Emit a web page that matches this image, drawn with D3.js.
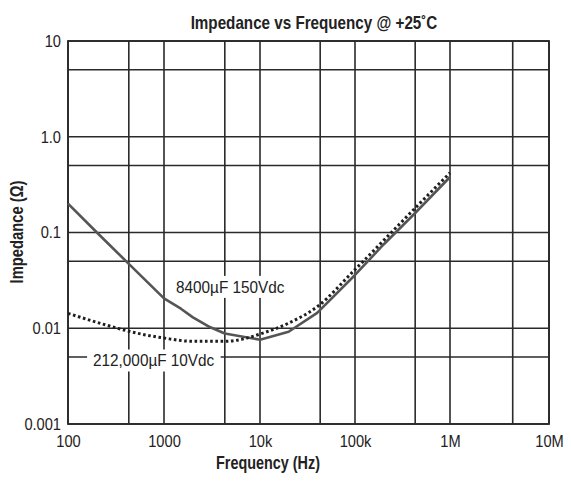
<!DOCTYPE html>
<html>
<head>
<meta charset="utf-8">
<script src="https://cdn.jsdelivr.net/npm/d3@7"></script>
<style>
  body { margin: 0; background: #fff; }
  text { font-family: "Liberation Sans", Arial, sans-serif; fill: #222; }
</style>
</head>
<body>
<div class="chart"></div>
<script>
// decades on the x axis, and the odd intermediate grid lines of the scan
var decadeFreqs = [100, 1000, 10000, 100000, 1000000, 10000000];
var decadeLabels = ['100', '1000', '10k', '100k', '1M', '10M'];
var minorFreqs = [430, 4300, 43000, 430000, 4300000];

var yTicks = [0.001, 0.01, 0.1, 1, 10];
var yLabels = ['0.001', '0.01', '0.1', '1.0', '10'];
var yMinor = [0.005, 0.05, 0.5, 5];

// 8400uF 150Vdc (solid)
var solidFreq = [100, 200, 430, 1000, 1500, 2000, 3000, 4300, 10000, 20000, 40000, 100000, 200000, 430000, 1000000];
var solidZ = [0.2, 0.1, 0.047, 0.0205, 0.016, 0.013, 0.0103, 0.0088, 0.0076, 0.0092, 0.0145, 0.036, 0.075, 0.16, 0.38];

// 212,000uF 10Vdc (dotted)
var dotFreq = [100, 250, 430, 1000, 2000, 4300, 7000, 10000, 20000, 40000, 100000, 430000, 1000000];
var dotZ = [0.0143, 0.0108, 0.0093, 0.0079, 0.0073, 0.0073, 0.0078, 0.0087, 0.0113, 0.0168, 0.041, 0.18, 0.42];

var W = 571, H = 486;

var svg = d3.select('.chart').append('svg')
    .attr('width', W)
    .attr('height', H);

// the last decade of the original is a bit wider than the others
var x = d3.scaleLog()
    .domain(decadeFreqs)
    .range([68, 164, 260, 355, 450, 549]);

var y = d3.scaleLog()
    .domain([0.001, 10])
    .range([424, 41]);

var x0 = x(100), x1 = x(1e7), yTop = y(10), yBot = y(0.001);

// the original type is a condensed grotesque, squeeze the installed one
function squeeze(sel, k) {
    sel.each(function () {
        var len = this.getComputedTextLength();
        d3.select(this)
            .attr('textLength', len * k)
            .attr('lengthAdjust', 'spacingAndGlyphs');
    });
}

var gridColor = '#2a2a2a';
var grid = svg.append('g');

grid.selectAll('line.v')
    .data(decadeFreqs.concat(minorFreqs))
    .enter().append('line')
    .attr('class', 'v')
    .attr('x1', function (d) { return x(d); })
    .attr('x2', function (d) { return x(d); })
    .attr('y1', yTop)
    .attr('y2', yBot)
    .attr('stroke', gridColor)
    .attr('stroke-width', 1.6);

grid.selectAll('line.h')
    .data(yTicks.concat(yMinor))
    .enter().append('line')
    .attr('class', 'h')
    .attr('x1', x0)
    .attr('x2', x1)
    .attr('y1', function (d) { return y(d); })
    .attr('y2', function (d) { return y(d); })
    .attr('stroke', gridColor)
    .attr('stroke-width', 1.6);

svg.append('rect')
    .attr('x', x0)
    .attr('y', yTop)
    .attr('width', x1 - x0)
    .attr('height', yBot - yTop)
    .attr('fill', 'none')
    .attr('stroke', gridColor)
    .attr('stroke-width', 1.8);

// curve labels sit on white patches that break the grid
function addLabel(txt, fx, fz) {
    var g = svg.append('g');
    var bg = g.append('rect').attr('fill', '#fff');
    var t = g.append('text')
        .attr('x', x(fx))
        .attr('y', y(fz))
        .attr('text-anchor', 'middle')
        .attr('dy', '0.35em')
        .style('font-size', '17px')
        .text(txt);
    squeeze(t, 0.9);
    var bb = t.node().getBBox();
    bg.attr('x', bb.x - 6)
        .attr('y', bb.y - 2)
        .attr('width', bb.width + 12)
        .attr('height', bb.height + 3);
}

addLabel('8400\u00b5F 150Vdc', 4900, 0.027);
addLabel('212,000\u00b5F 10Vdc', 780, 0.0046);

var line = d3.line()
    .x(function (d) { return x(d[0]); })
    .y(function (d) { return y(d[1]); });

svg.append('path')
    .datum(d3.zip(solidFreq, solidZ))
    .attr('d', line.curve(d3.curveLinear))
    .attr('fill', 'none')
    .attr('stroke', '#555')
    .attr('stroke-width', 2.6)
    .attr('stroke-linejoin', 'round');

svg.append('path')
    .datum(d3.zip(dotFreq, dotZ))
    .attr('d', line.curve(d3.curveMonotoneX))
    .attr('fill', 'none')
    .attr('stroke', '#1e1e1e')
    .attr('stroke-width', 3)
    .attr('stroke-dasharray', '2.6,2.6');

// axes, labels only
var xAxis = d3.axisBottom(x)
    .tickValues(decadeFreqs)
    .tickFormat(function (d, i) { return decadeLabels[i]; })
    .tickSize(0)
    .tickPadding(11);

var gx = svg.append('g')
    .attr('transform', 'translate(0,' + yBot + ')')
    .call(xAxis);
gx.select('.domain').remove();
gx.selectAll('text')
    .style('font-size', '17px')
    .style('font-family', null)
    .attr('fill', '#222')
    .call(squeeze, 0.86);

var yAxis = d3.axisLeft(y)
    .tickValues(yTicks)
    .tickFormat(function (d, i) { return yLabels[i]; })
    .tickSize(0)
    .tickPadding(7);

var gy = svg.append('g')
    .attr('transform', 'translate(' + x0 + ',0)')
    .call(yAxis);
gy.select('.domain').remove();
gy.selectAll('text')
    .style('font-size', '17px')
    .style('font-family', null)
    .attr('fill', '#222')
    .call(squeeze, 0.86);

svg.append('text')
    .attr('x', 314)
    .attr('y', 29)
    .attr('text-anchor', 'middle')
    .style('font-size', '19px')
    .style('font-weight', 'bold')
    .text('Impedance vs Frequency @ +25\u02daC')
    .call(squeeze, 0.8);

svg.append('text')
    .attr('x', 268)
    .attr('y', 469)
    .attr('text-anchor', 'middle')
    .style('font-size', '18px')
    .style('font-weight', 'bold')
    .text('Frequency (Hz)')
    .call(squeeze, 0.8);

svg.append('text')
    .attr('transform', 'translate(23,232) rotate(-90)')
    .attr('text-anchor', 'middle')
    .style('font-size', '18px')
    .style('font-weight', 'bold')
    .text('Impedance (\u03a9)')
    .call(squeeze, 0.82);
</script>
</body>
</html>
